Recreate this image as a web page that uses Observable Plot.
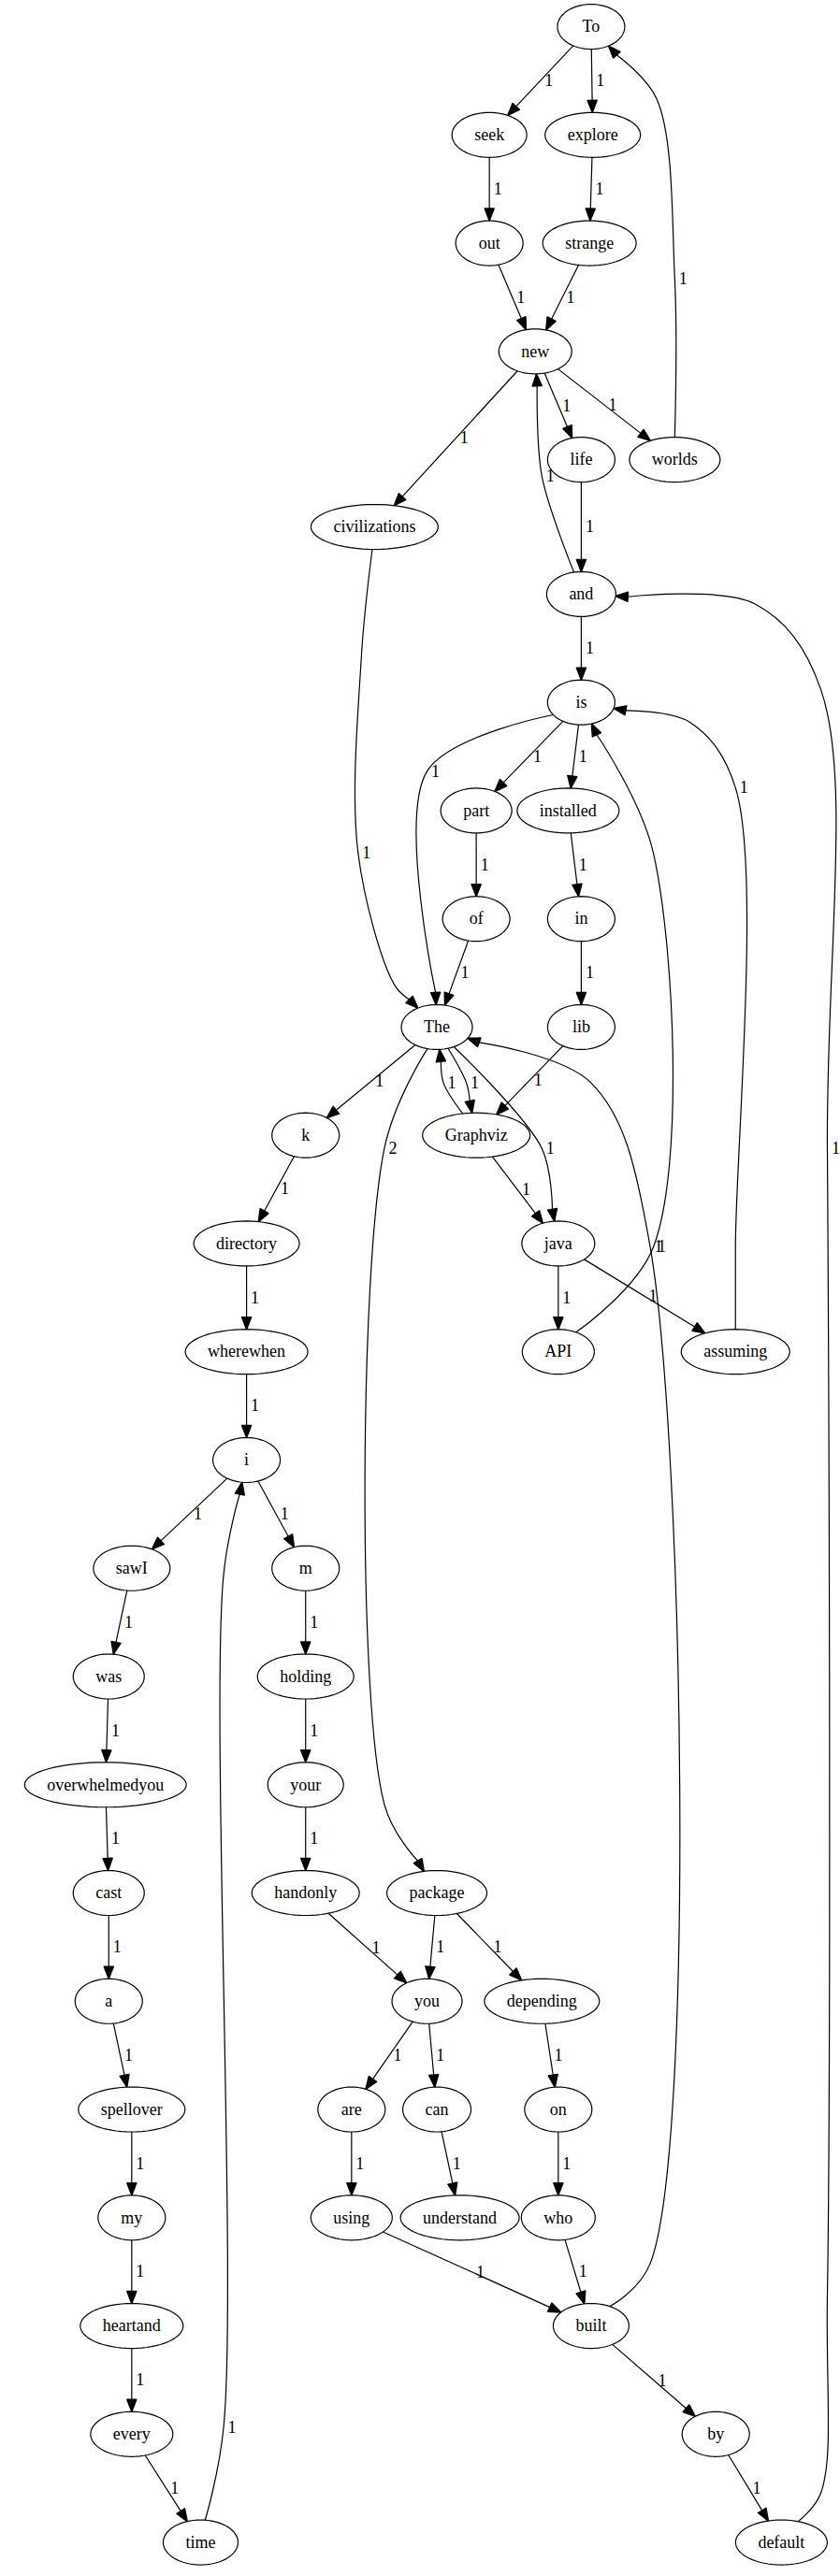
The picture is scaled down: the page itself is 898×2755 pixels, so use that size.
<!DOCTYPE html>
<html>
<head>
<meta charset="utf-8">
<script src="https://cdn.jsdelivr.net/npm/d3@7"></script>
<script src="https://cdn.jsdelivr.net/npm/@observablehq/plot@0.6"></script>
<style>body{margin:0;background:#fff} svg text{font-family:'Liberation Serif','DejaVu Serif',serif !important}</style>
</head>
<body>
<div id="chart"></div>
<script>
// node positions (picture units, 512 wide)
const nodeNames = ["To","seek","explore","out","strange","new","civilizations","life","worlds","and","is","part","installed","of","in","The","lib","k","Graphviz","directory","java","wherewhen","API","assuming","i","sawI","m","was","holding","overwhelmedyou","your","cast","handonly","package","a","you","depending","spellover","are","can","on","my","using","understand","who","heartand","built","every","by","time","default"];
const nodeX = [360,298,361,298,359,326,228,354,411,354,354,290,346,290,354,266,354,186,290,150,340,150,340,448,150,80,186,66,186,64,186,66,186,266,66,260,330,80,214,266,340,80,214,280,340,80,360,80,436,122,476];
const nodeY = [16,82,82,148,148,214,321,280,280,362,428,494,494,560,560,626,626,692,692,758,758,824,824,824,890,956,956,1022,1022,1088,1088,1154,1154,1154,1220,1220,1220,1286,1286,1286,1286,1352,1352,1352,1352,1418,1418,1484,1484,1550,1550];

const edgeFrom = ["To","To","seek","explore","out","strange","new","new","new","worlds","life","and","civilizations","default","and","is","is","is","part","installed","of","in","lib","The","Graphviz","The","The","The","k","Graphviz","java","java","API","assuming","directory","wherewhen","i","i","time","sawI","was","overwhelmedyou","cast","a","spellover","my","heartand","every","m","holding","your","handonly","package","package","you","you","are","can","depending","on","who","using","built","built","by"];
const edgeTo = ["seek","explore","out","strange","new","new","civilizations","life","worlds","To","and","new","The","and","is","The","part","installed","of","in","The","lib","Graphviz","Graphviz","The","k","java","package","directory","java","API","assuming","is","is","wherewhen","i","sawI","m","i","was","overwhelmedyou","cast","a","spellover","my","heartand","every","time","holding","your","handonly","you","you","depending","are","can","using","understand","on","who","built","built","The","by","default"];
const edgeWeight = ["1","1","1","1","1","1","1","1","1","1","1","1","1","1","1","1","1","1","1","1","1","1","1","1","1","1","1","2","1","1","1","1","1","1","1","1","1","1","1","1","1","1","1","1","1","1","1","1","1","1","1","1","1","1","1","1","1","1","1","1","1","1","1","1","1"];
// bends of the routed edges, "x,y x,y" in picture units
const edgeVia = {
  "worlds>To": "411,170 400,60",
  "and>new": "330,290",
  "civilizations>The": "220,400 218,520 240,600",
  "default>and": "500,1520 504,1400 504,700 500,420 460,368",
  "is>The": "260,470",
  "The>Graphviz": "284,660",
  "Graphviz>The": "270,660",
  "The>java": "330,700",
  "The>package": "234,700 234,1100",
  "API>is": "398,760 398,520",
  "assuming>is": "448,760 448,480 420,440",
  "time>i": "136,1480 136,960",
  "built>The": "396,1380 396,760 360,660"
};

const W = 898, H = 2755, k = W / 512;
const ctx = document.createElement("canvas").getContext("2d");
ctx.font = "18px 'Liberation Serif'";

const nodes = nodeNames.map((name, i) => {
  const tw = ctx.measureText(name).width;
  return {name, x: nodeX[i] * k, y: nodeY[i] * k, rx: Math.max(36, tw / 2 + 24), ry: 24};
});
const byName = new Map(nodes.map(d => [d.name, d]));

// ellipse outlines
const outline = [];
for (const n of nodes) {
  for (let a = 0; a <= 64; a++) {
    const t = a / 64 * 2 * Math.PI;
    outline.push({id: n.name, x: n.x + n.rx * Math.cos(t), y: n.y + n.ry * Math.sin(t)});
  }
}

// point on the ellipse border of n, in the direction of p
function border(n, p) {
  const dx = p[0] - n.x, dy = p[1] - n.y;
  const s = 1 / Math.sqrt((dx * dx) / (n.rx * n.rx) + (dy * dy) / (n.ry * n.ry));
  return [n.x + dx * s, n.y + dy * s];
}

const edgePts = [], heads = [], labels = [];
edgeFrom.forEach((f, i) => {
  const a = byName.get(f), b = byName.get(edgeTo[i]);
  const key = f + ">" + edgeTo[i];
  const via = (edgeVia[key] || "").split(" ").filter(Boolean).map(s => s.split(",").map(v => +v * k));
  const first = via.length ? via[0] : [b.x, b.y];
  const last = via.length ? via[via.length - 1] : [a.x, a.y];
  const p0 = border(a, first);
  const tip = border(b, last);
  const ang = Math.atan2(tip[1] - last[1], tip[0] - last[0]);
  const L = 13, hw = 5;
  const base = [tip[0] - L * Math.cos(ang), tip[1] - L * Math.sin(ang)];
  const pts = [p0, ...via, base];
  pts.forEach(p => edgePts.push({id: key, x: p[0], y: p[1]}));
  const nx = -Math.sin(ang), ny = Math.cos(ang);
  [tip, [base[0] + hw * nx, base[1] + hw * ny], [base[0] - hw * nx, base[1] - hw * ny]]
    .forEach(p => heads.push({id: key, x: p[0], y: p[1]}));
  // label near the middle of the path
  let lp;
  if (via.length) lp = via[Math.floor((via.length - 1) / 2)];
  else lp = [(p0[0] + tip[0]) / 2, (p0[1] + tip[1]) / 2];
  labels.push({x: lp[0], y: lp[1], text: edgeWeight[i]});
});

const chart = Plot.plot({
  width: W,
  height: H,
  margin: 0,
  x: {domain: [0, W], axis: null},
  y: {domain: [0, H], axis: null, reverse: true},
  style: {background: "white", fontFamily: "'Liberation Serif', serif"},
  marks: [
    Plot.line(edgePts, {x: "x", y: "y", z: "id", stroke: "black", strokeWidth: 1.2, curve: "catmull-rom"}),
    Plot.line(heads, {x: "x", y: "y", z: "id", fill: "black", stroke: "black", curve: "linear-closed"}),
    Plot.line(outline, {x: "x", y: "y", z: "id", fill: "white", stroke: "black", strokeWidth: 1.2}),
    Plot.text(nodes, {x: "x", y: "y", text: "name", fontSize: 18, fill: "black"}),
    Plot.text(labels, {x: "x", y: "y", text: "text", dx: 9, fontSize: 18, fill: "black"})
  ]
});
document.getElementById("chart").appendChild(chart);
</script>
</body>
</html>
